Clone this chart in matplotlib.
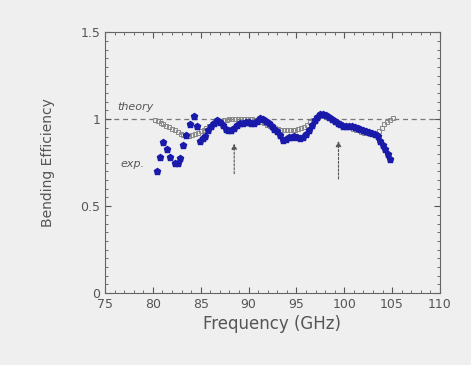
import matplotlib.pyplot as plt
from matplotlib.ticker import MultipleLocator

# measured (blue, filled) points
exp_f = [80.4, 80.75, 81.1, 81.5, 81.8, 82.3, 82.6, 82.8, 83.2, 83.5, 83.9, 84.3, 84.6,
         84.9, 85.2, 85.5, 85.8, 86.1, 86.4, 86.7, 87.0, 87.3, 87.6, 87.9, 88.2, 88.5,
         88.8, 89.1, 89.4, 89.7, 90.0, 90.3, 90.6, 90.9, 91.2, 91.5, 91.8, 92.1, 92.4,
         92.7, 93.0, 93.3, 93.6, 93.9, 94.2, 94.5, 94.8, 95.1, 95.4, 95.7, 96.0, 96.3,
         96.6, 96.9, 97.2, 97.5, 97.8, 98.1, 98.4, 98.7, 99.0, 99.3, 99.6, 99.9, 100.2,
         100.5, 100.8, 101.1, 101.4, 101.7, 102.0, 102.3, 102.6, 102.9, 103.2, 103.5,
         103.7, 104.0, 104.3, 104.6, 104.8]
exp_eff = [0.70, 0.78, 0.87, 0.83, 0.78, 0.745, 0.745, 0.775, 0.85, 0.91, 0.97, 1.02, 0.96,
           0.876, 0.89, 0.905, 0.935, 0.96, 0.98, 0.994, 0.985, 0.965, 0.945, 0.935, 0.935, 0.95,
           0.965, 0.975, 0.98, 0.985, 0.985, 0.98, 0.98, 0.99, 1.005, 1.0, 0.99, 0.975, 0.96,
           0.945, 0.93, 0.91, 0.88, 0.885, 0.895, 0.90, 0.905, 0.895, 0.89, 0.90, 0.915, 0.935,
           0.965, 0.995, 1.015, 1.028, 1.03, 1.025, 1.015, 1.0, 0.99, 0.975, 0.97, 0.96, 0.96,
           0.96, 0.958, 0.955, 0.95, 0.945, 0.937, 0.93, 0.925, 0.92, 0.915, 0.905,
           0.876, 0.85, 0.83, 0.80, 0.77]

# theory (grey open squares)
th_f = [80.2, 80.5, 80.8, 81.1, 81.4, 81.7, 82.0, 82.3, 82.6, 82.9, 83.2, 83.5, 83.8, 84.1,
        84.4, 84.7, 85.0, 85.3, 85.6, 85.9, 86.2, 86.5, 86.8, 87.1, 87.4, 87.7, 88.0, 88.3,
        88.6, 88.9, 89.2, 89.5, 89.8, 90.1, 90.4, 90.7, 91.0, 91.3, 91.6, 91.9, 92.2, 92.5,
        92.8, 93.1, 93.4, 93.7, 94.0, 94.3, 94.6, 94.9, 95.2, 95.5, 95.8, 96.1, 96.4, 96.7,
        97.0, 97.3, 97.6, 97.9, 98.2, 98.5, 98.8, 99.1, 99.4, 99.7, 100.0, 100.3, 100.6,
        100.9, 101.2, 101.5, 101.8, 102.1, 102.4, 102.7, 103.0, 103.3, 103.6, 103.9, 104.2,
        104.5, 104.8, 105.1]
th_eff = [0.994, 0.99, 0.98, 0.972, 0.963, 0.955, 0.945, 0.935, 0.925, 0.915, 0.91, 0.905,
          0.905, 0.91, 0.915, 0.922, 0.93, 0.94, 0.95, 0.96, 0.97, 0.978, 0.985, 0.99, 0.993,
          0.997, 1.0, 1.0, 1.0, 1.0, 1.0, 1.0, 1.0, 1.0, 0.998, 0.993, 0.988, 0.982, 0.975,
          0.968, 0.96, 0.955, 0.95, 0.945, 0.94, 0.94, 0.938, 0.937, 0.937, 0.94, 0.942, 0.947,
          0.955, 0.968, 0.982, 0.997, 1.008, 1.015, 1.018, 1.018, 1.013, 1.005, 0.997, 0.99,
          0.98, 0.972, 0.965, 0.958, 0.952, 0.945, 0.94, 0.935, 0.928, 0.922, 0.918, 0.915,
          0.913, 0.915, 0.93, 0.95, 0.97, 0.985, 0.997, 1.005]

arrow_f = [88.5, 99.4]
arrow_tip = [0.875, 0.89]
arrow_tail = [0.67, 0.64]

fig = plt.figure(figsize=(4.71, 3.65), dpi=100, facecolor='#efefef')
ax = fig.add_axes([0.223, 0.197, 0.711, 0.715])
ax.set_facecolor('#efefef')

ax.axhline(1.0, color='#777777', lw=0.9, ls=(0, (4, 3)), zorder=1)
ax.plot(th_f, th_eff, 's', mfc='none', mec='#888888', ms=3.2, mew=0.7, zorder=2)
ax.plot(exp_f, exp_eff, 'p', color='#1a1aaa', ms=4.5, zorder=3)

for f, tip, tail in zip(arrow_f, arrow_tip, arrow_tail):
    ax.annotate('', xy=(f, tip), xytext=(f, tail),
                arrowprops=dict(arrowstyle='-|>', color='#555555', lw=0.8,
                                ls=(0, (2, 1.5)), mutation_scale=8))

ax.text(76.3, 1.055, 'theory', fontsize=8, color='#555555', style='italic')
ax.text(76.6, 0.725, 'exp.', fontsize=8, color='#555555', style='italic')

ax.set_xlim(75, 110)
ax.set_ylim(0, 1.5)
ax.set_xticks([75, 80, 85, 90, 95, 100, 105, 110])
ax.set_yticks([0, 0.5, 1, 1.5])
ax.set_yticklabels(['0', '0.5', '1', '1.5'])
ax.xaxis.set_minor_locator(MultipleLocator(1))
ax.yaxis.set_minor_locator(MultipleLocator(0.05))
ax.tick_params(which='both', direction='in', top=True, right=True, colors='#555555',
               labelsize=9, labelcolor='#555555')
ax.tick_params(which='major', length=4)
ax.tick_params(which='minor', length=2)
for s in ax.spines.values():
    s.set_color('#666666')
    s.set_linewidth(0.8)

ax.set_xlabel('Frequency (GHz)', fontsize=12, color='#555555', labelpad=3)
ax.set_ylabel('Bending Efficiency', fontsize=10, color='#555555', labelpad=18)

fig.savefig('out.png', dpi=100, facecolor=fig.get_facecolor())
